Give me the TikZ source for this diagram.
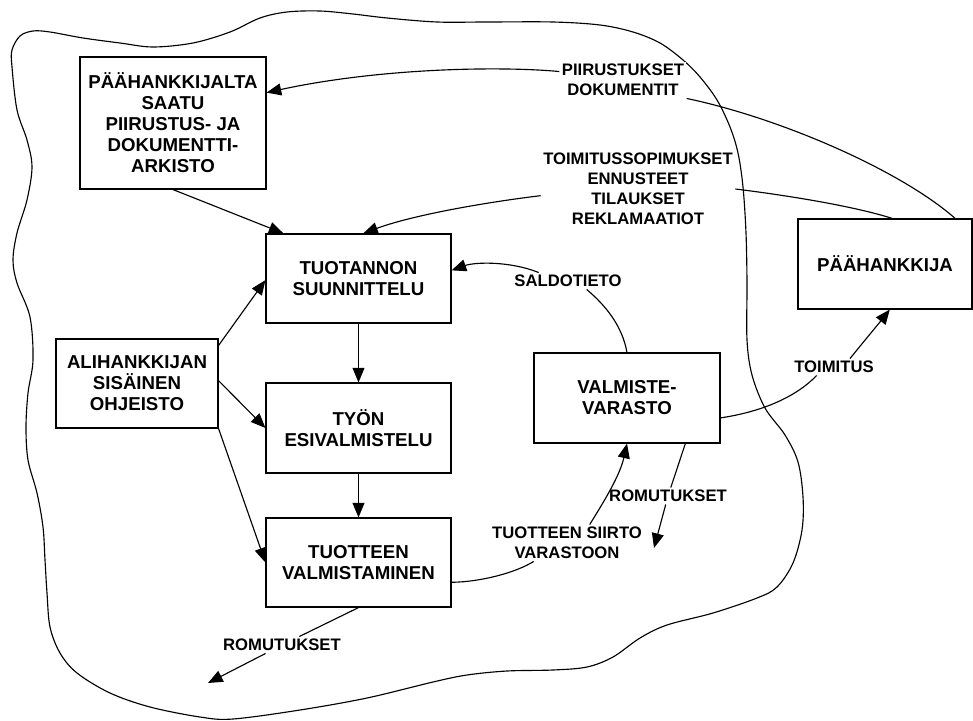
\documentclass[tikz,border=0pt]{standalone}
\usepackage{fontspec}
\setmainfont{Liberation Sans}
\usetikzlibrary{arrows.meta}
\usetikzlibrary{calc}

\begin{document}
\begin{tikzpicture}[x=0.75pt, y=-0.75pt, line width=0.85pt, >={Triangle[length=11pt, width=9pt]},
       box/.style={draw, align=center, inner sep=0pt, font=\fontsize{14}{15.75}\selectfont\bfseries},
       lbl/.style={align=center, fill=white, inner sep=1.5pt, font=\fontsize{12.5}{15}\selectfont\bfseries}]
       \useasboundingbox (0, 0) rectangle (973, 720);

       % company border (cloud)
       \draw plot [smooth cycle, tension=0.55] coordinates {
              (12,50) (20,36) (33,31) (50,32) (83,38) (120,43) (153,47) (193,43) (230,32)
              (260,18) (287,12) (320,11) (353,14) (387,18) (437,22) (487,22) (553,22)
              (600,25) (633,32) (660,43) (683,60) (700,77) (717,100) (730,127) (738,153)
              (743,187) (746,233) (747,283) (747,340) (752,375) (765,408) (785,435)
              (798,462) (803,497) (802,530) (793,563) (777,587) (757,598) (713,613)
              (667,625) (640,638) (613,657) (587,667) (553,670) (507,671) (467,675)
              (433,682) (367,698) (300,710) (233,719) (200,717) (150,707) (110,693)
              (77,673) (60,653) (50,627) (47,593) (45,560) (43,527) (37,493) (28,460)
              (26,427) (28,393) (33,360) (30,317) (17,283) (13,260) (17,233) (27,200)
              (32,167) (27,140) (17,110) (12,67)};

       % boxes
       \node [box, minimum width=139.5pt, minimum height=99pt] (arkisto) at (173, 123)
              {PÄÄHANKKIJALTA\\SAATU\\PIIRUSTUS- JA\\DOKUMENTTI-\\ARKISTO};
       \node [box, minimum width=138.75pt, minimum height=66.75pt] (suunn) at (358.5, 278.5)
              {TUOTANNON\\SUUNNITTELU};
       \node [box, minimum width=138.75pt, minimum height=67.5pt] (esiv) at (358.5, 428)
              {TYÖN\\ESIVALMISTELU};
       \node [box, minimum width=138.75pt, minimum height=66.75pt] (valm) at (358.5, 562.5)
              {TUOTTEEN\\VALMISTAMINEN};
       \node [box, minimum width=121.5pt, minimum height=66.75pt] (ohje) at (137, 383.5)
              {ALIHANKKIJAN\\SISÄINEN\\OHJEISTO};
       \node [box, minimum width=139.5pt, minimum height=67.5pt] (varasto) at (627, 398)
              {VALMISTE-\\VARASTO};
       \node [box, minimum width=130.5pt, minimum height=67.5pt] (paah) at (885, 264)
              {PÄÄHANKKIJA};

       % flow labels
       \node [lbl] (lpiir) at (623, 80) {PIIRUSTUKSET\\DOKUMENTIT};
       \node [lbl] (ltoim) at (638, 189) {TOIMITUSSOPIMUKSET\\ENNUSTEET\\TILAUKSET\\REKLAMAATIOT};
       \node [lbl] (lsaldo) at (568, 281) {SALDOTIETO};
       \node [lbl] (lromu1) at (282, 645) {ROMUTUKSET};
       \node [lbl] (lsiirto) at (567, 543) {TUOTTEEN SIIRTO\\VARASTOON};
       \node [lbl] (lromu2) at (668, 496) {ROMUTUKSET};
       \node [lbl] (ltoimitus) at (834, 367) {TOIMITUS};
       \coordinate (romuend1) at (208, 683);
       \coordinate (romuend2) at (654, 548);

       % drawings and documents from the main contractor
       \draw (paah.33.5) .. controls (900, 170) and (780, 118) .. (lpiir.south east);
       \draw [->] ([yshift=-7.5pt]lpiir.north west) .. controls (500, 66) and (380, 68) .. (arkisto.18);

       % contracts, forecasts, orders
       \draw (paah.81) .. controls (860, 208) and (800, 197) .. (ltoim.east);
       \draw [->] ([yshift=-5pt]ltoim.west) .. controls (480, 203) and (410, 216) .. ([xshift=3.5pt]suunn.north);

       \draw [->] (arkisto.south) -- (suunn.149);

       % stock information
       \draw (varasto.north) .. controls (622, 325) and (605, 305) .. ([xshift=14pt]lsaldo.south);
       \draw [->] ([xshift=-22pt]lsaldo.north) .. controls (510, 261) and (475, 262) .. (suunn.5);

       % internal instructions
       \draw [->] (ohje.25.4) -- (suunn.181);
       \draw [->] (ohje.2) -- (esiv.west);
       \draw [->] (ohje.south east) -- (valm.west);

       % production chain
       \draw [->] (suunn.south) -- (esiv.north);
       \draw [->] (esiv.south) -- (valm.north);

       % scrap
       \draw (valm.south) -- (lromu1);
       \draw [->] (lromu1) -- (romuend1);
       \draw (varasto.-38.3) -- (lromu2);
       \draw [->] (lromu2) -- (romuend2);

       % transfer to stock
       \draw (valm.-12.5) .. controls (480, 582) and (515, 573) .. ([xshift=-25pt]lsiirto.south);
       \draw [->] ([xshift=17pt]lsiirto.north) .. controls (605, 500) and (620, 475) .. (varasto.south);

       % delivery
       \draw (varasto.-12.7) .. controls (760, 412) and (795, 398) .. ([xshift=-13pt]ltoimitus.south);
       \draw [->] ([xshift=12pt]ltoimitus.north) .. controls (865, 340) and (880, 322) .. (paah.-84);
\end{tikzpicture}
\end{document}
